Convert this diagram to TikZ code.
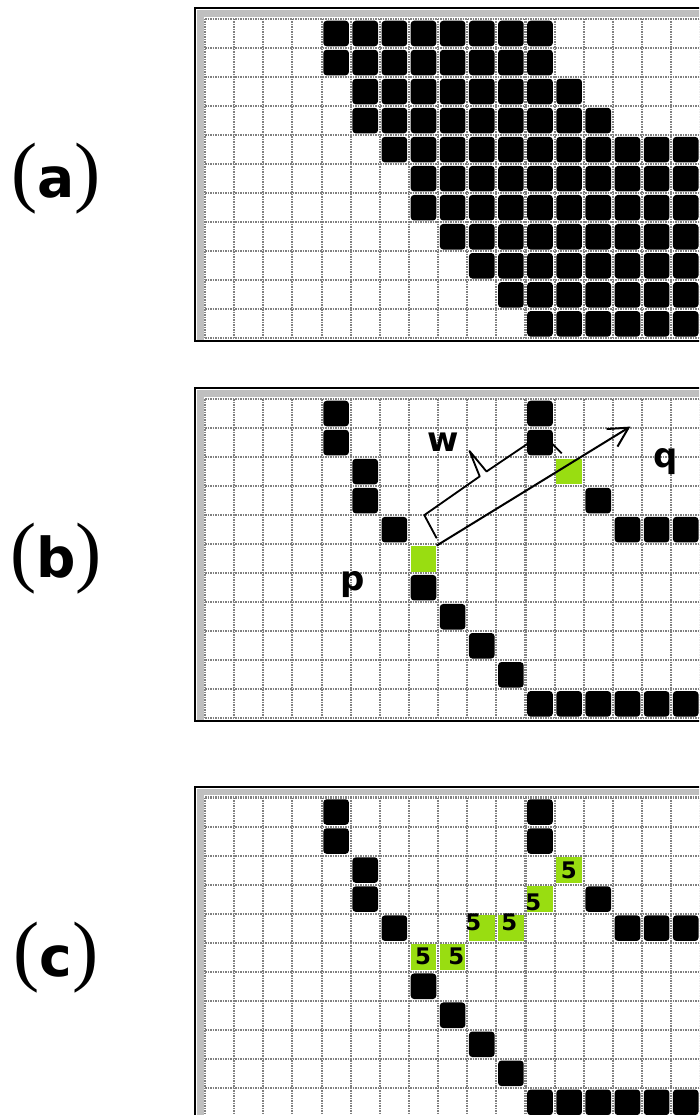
\documentclass[tikz,border=0pt]{standalone}
\usepackage{fontspec}
\newfontfamily\labelfont{DejaVu Sans}
\newfontfamily\parenfont{Liberation Serif}
\usetikzlibrary{arrows.meta}
\definecolor{cellgreen}{RGB}{153,221,17}
\newcommand{\subfiglabel}[1]{{\parenfont\fontsize{67}{67}\selectfont(}{\labelfont\bfseries\fontsize{47}{47}\selectfont #1}{\parenfont\fontsize{67}{67}\selectfont)}}
\tikzset{
    panel/.style={shift={(205,#1)}, x=8.74mm, y=-8.71mm},
    gridline/.style={black!50, line width=0.62mm, dash pattern=on 0.45mm off 0.3mm},
    blackcell/.style={fill=black, rounded corners=1mm},
    greencell/.style={fill=cellgreen, inner sep=0pt, minimum size=7.7mm},
    letter/.style={font=\labelfont\bfseries\fontsize{29}{29}\selectfont, anchor=base, inner sep=0pt},
    five/.style={font=\labelfont\bfseries\fontsize{19.5}{19.5}\selectfont, anchor=base, inner sep=0pt},
    sublabel/.style={anchor=base, inner sep=0pt}
}
\begin{document}
\begin{tikzpicture}[x=0.3mm, y=-0.3mm]
    \clip (0,0) rectangle (699,1115);
    % frames and grids
    \foreach \ty in {19,399,797.5} {
        \begin{scope}[panel=\ty]
            \draw [line width=0.6mm] (-0.343,-0.379) rectangle (17.6,11.09);
            \fill [gray!50] (-0.28,-0.31) rectangle (17.6,-0.07);
            \fill [gray!50] (-0.28,-0.31) rectangle (-0.04,11.05);
            \foreach \i in {0,...,17}
                \draw [gridline] (\i,0) -- (\i,11);
            \foreach \j in {0,...,11}
                \draw [gridline] (0,\j) -- (17.6,\j);
        \end{scope}
    }
    % (a) filled region
    \begin{scope}[panel=19]
        \foreach \r/\s/\e in {0/4/11,1/4/11,2/5/12,3/5/13,4/6/16,5/7/16,6/7/16,7/8/16,8/9/16,9/10/16,10/11/16}
            \foreach \c in {\s,...,\e}
                \fill [blackcell] (\c+.06,\r+.06) rectangle (\c+.94,\r+.94);
    \end{scope}
    % (b) and (c) edge pixels
    \foreach \ty in {399,797.5} {
        \begin{scope}[panel=\ty]
            \foreach \c/\r in {4/0,11/0,4/1,11/1,5/2,5/3,13/3,6/4,14/4,15/4,16/4,7/6,8/7,9/8,10/9,11/10,12/10,13/10,14/10,15/10,16/10}
                \fill [blackcell] (\c+.06,\r+.06) rectangle (\c+.94,\r+.94);
        \end{scope}
    }
    % (b)
    \begin{scope}[panel=399]
        \node [greencell] (qcell) at (12.5,2.5) {};
        \node [greencell] (pcell) at (7.5,5.5) {};
        \coordinate (qtip) at (14.6,0.95);
    \end{scope}
    \draw [line width=0.6mm, -{Straight Barb[length=5.8mm, width=6.2mm]}] (pcell.north east) -- (qtip);
    \draw [line width=0.55mm, line join=round] (436.7,538.3) -- (424.3,515.1) -- (479.7,476.4) -- (469.5,451) -- (486.5,471.5) -- (542.2,433.9) -- (561.7,453.3);
    \node [letter] (w) at (443.3,451.7) {w};
    \node [letter] (p) at (352.5,590) {p};
    \node [letter] (q) at (665.8,467.3) {q};
    % (c)
    \begin{scope}[panel=797.5]
        \foreach \c/\r [count=\k] in {7/5,8/5,9/4,10/4,11/3,12/2}
            \node [greencell] (g\k) at (\c+.5,\r+.5) {};
    \end{scope}
    \foreach \x/\y [count=\k] in {423/964,456.3/964,473.3/930,509.3/930,533.3/910.7,568.7/878.3}
        \node [five] (n\k) at (\x,\y) {5};
    % panel labels
    \node [sublabel] (la) at (56,197) {\subfiglabel{a}};
    \node [sublabel] (lb) at (56,577) {\subfiglabel{b}};
    \node [sublabel] (lc) at (56,976) {\subfiglabel{c}};
\end{tikzpicture}
\end{document}
